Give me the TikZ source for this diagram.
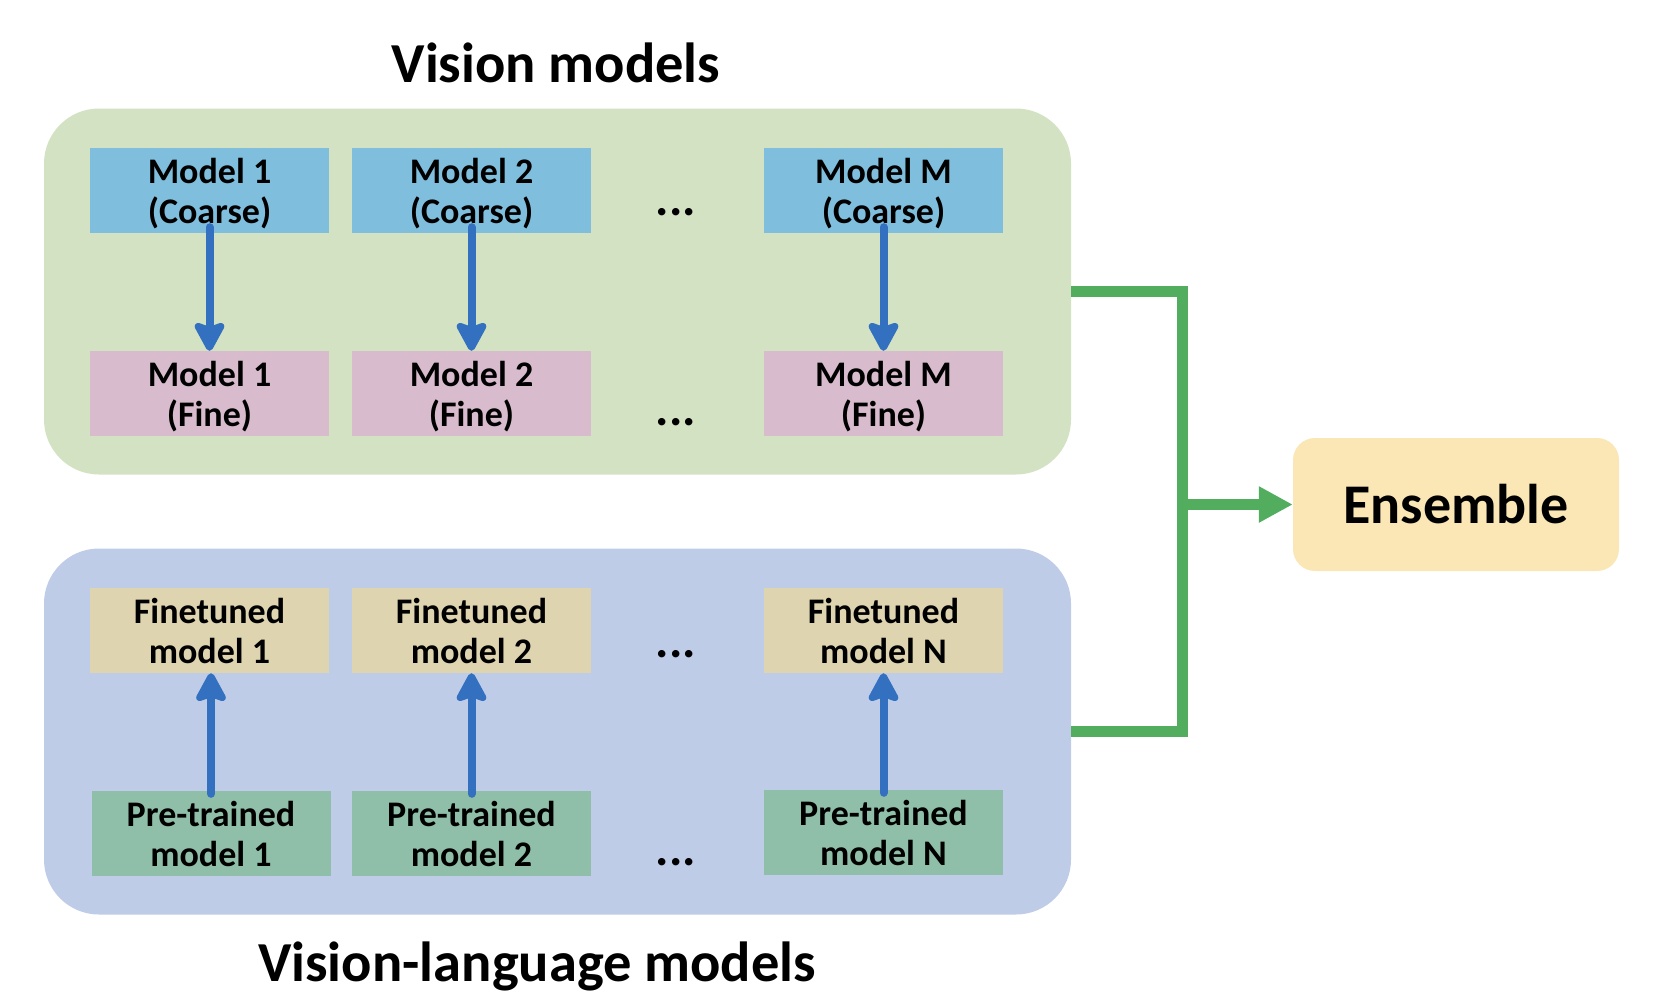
\documentclass[tikz,border=0pt]{standalone}
\usepackage{fontspec}
\newfontfamily\cf{Carlito}
\usetikzlibrary{arrows.meta,calc}
\definecolor{visbg}{HTML}{D3E2C3}
\definecolor{vlbg}{HTML}{BFCCE8}
\definecolor{coarsec}{HTML}{7FBFDD}
\definecolor{finec}{HTML}{D8BCCE}
\definecolor{ftc}{HTML}{DFD4B0}
\definecolor{ptc}{HTML}{8FBFA8}
\definecolor{ensc}{HTML}{FBE6B5}
\definecolor{gline}{HTML}{52AE5E}
\definecolor{barrow}{HTML}{3370C0}
\newcommand\nodp[1]{\raisebox{0pt}[\height][0pt]{#1}}
\begin{document}
\begin{tikzpicture}[x=1pt,y=-1pt,
  every node/.style={font=\cf\bfseries},
  panel/.style={rounded corners=55pt, inner sep=0pt, minimum width=1027pt, minimum height=366pt, draw=none},
  mbox/.style={inner sep=0pt, minimum width=239pt, minimum height=85pt, align=center, font=\cf\bfseries\fontsize{36}{40}\selectfont},
  dotsx/.style={anchor=base, inner sep=0pt, font=\cf\bfseries\fontsize{50}{50}\selectfont},
  title/.style={anchor=base, inner sep=0pt, font=\cf\bfseries\fontsize{56.5}{60}\selectfont},
  barr/.style={draw=barrow, line width=8pt, line cap=round, -{Stealth[length=34pt,width=36pt,inset=6pt,round=false]}},
  gconn/.style={draw=gline, line width=11pt, line join=miter},
]
\useasboundingbox (0,0) rectangle (1662,1002);
% titles
\node[title] (t1) at (556,82) {Vision models};
\node[title] (t2) at (537,981) {Vision-language models};
% panels
\node[panel, fill=visbg] (vis) at (557.5,291.5) {};
\node[panel, fill=vlbg] (vl) at (557.5,731.5) {};
% vision models
\node[mbox, fill=coarsec] (c1) at (209.5,190.5) {Model 1\\\nodp{(Coarse)}};
\node[mbox, fill=coarsec] (c2) at (471.5,190.5) {Model 2\\\nodp{(Coarse)}};
\node[mbox, fill=coarsec] (c3) at (883.5,190.5) {Model M\\\nodp{(Coarse)}};
\node[mbox, fill=finec] (f1) at (209.5,393.5) {Model 1\\\nodp{(Fine)}};
\node[mbox, fill=finec] (f2) at (471.5,393.5) {Model 2\\\nodp{(Fine)}};
\node[mbox, fill=finec] (f3) at (883.5,393.5) {Model M\\\nodp{(Fine)}};
% vision-language models
\node[mbox, fill=ftc] (ft1) at (209.5,630.5) {Finetuned\\model 1};
\node[mbox, fill=ftc] (ft2) at (471.5,630.5) {Finetuned\\model 2};
\node[mbox, fill=ftc] (ft3) at (883.5,630.5) {Finetuned\\model N};
\node[mbox, fill=ptc] (pt1) at (211,833.5) {Pre-trained\\model 1};
\node[mbox, fill=ptc] (pt2) at (471.5,833.5) {Pre-trained\\model 2};
\node[mbox, fill=ptc] (pt3) at (883.5,832.5) {Pre-trained\\model N};
% dots
\node[dotsx] (d1) at (676,215) {...};
\node[dotsx] (d2) at (676,425) {...};
\node[dotsx] (d3) at (676,657) {...};
\node[dotsx] (d4) at (676,865) {...};
% ensemble
\node[rounded corners=22pt, fill=ensc, minimum width=326pt, minimum height=133pt, inner sep=0pt,
      font=\cf\bfseries\fontsize{56}{60}\selectfont] (ens) at (1456,504.5) {Ensemble};
% blue arrows
\draw[barr] ([yshift=6pt]c1.south) -- (f1.north);
\draw[barr] ([yshift=6pt]c2.south) -- (f2.north);
\draw[barr] ([yshift=6pt]c3.south) -- (f3.north);
\draw[barr] ([yshift=-3pt]pt1.north) -- (ft1.south -| pt1.north);
\draw[barr] ([yshift=-3pt]pt2.north) -- (ft2.south);
\draw[barr] ([yshift=-3pt]pt3.north) -- (ft3.south);
% green connector
\coordinate (jx) at (1182,504.5);
\draw[gconn] (vis.east) -- (vis.east -| jx) -- (vl.east -| jx) -- (vl.east);
\draw[gconn, -{Triangle[length=34pt,width=34pt]}] (jx) -- (ens.west);
\end{tikzpicture}
\end{document}
